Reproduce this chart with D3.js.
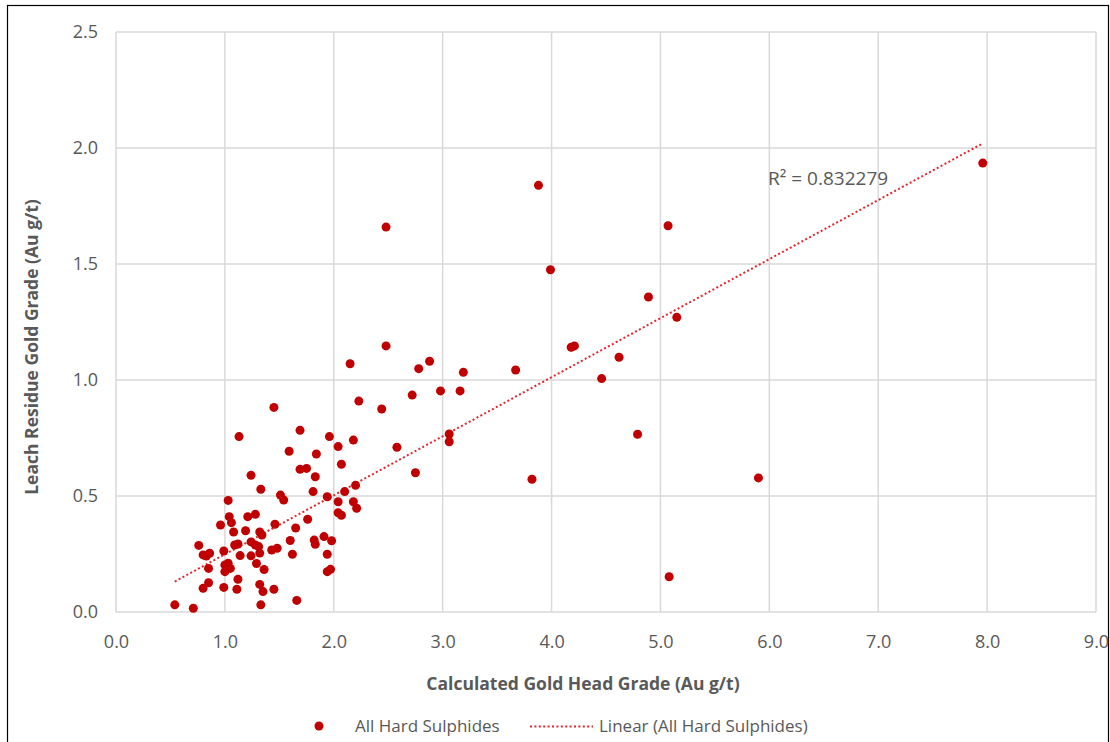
<!DOCTYPE html>
<html>
<head>
<meta charset="utf-8">
<script src="https://cdn.jsdelivr.net/npm/d3@7"></script>
<style>
  html, body { margin: 0; padding: 0; background: #fff; }
  svg { display: block; }
  text { font-family: "Open Sans", "Noto Sans", sans-serif; fill: #595959; }
</style>
</head>
<body>
<svg id="chart" width="1110" height="742"></svg>
<script>
// Calculated head grade (Au g/t) for each hard-sulphide sample
const headGrade = [
  7.96, 3.88, 5.07, 2.48, 3.99, 4.89, 5.15, 4.18, 4.21, 2.48,
  4.62, 2.15, 2.78, 2.88, 3.19, 3.67, 4.46, 2.23, 1.45, 2.44,
  2.72, 2.98, 3.16, 1.69, 1.96, 1.13, 2.18, 2.04, 2.58, 3.06,
  3.06, 4.79, 1.59, 1.84, 2.07, 1.75, 1.69, 1.24, 1.83, 2.75,
  3.82, 5.90, 5.08, 2.20, 1.33, 1.81, 2.10, 1.94, 1.51, 1.54,
  1.03, 2.04, 2.18, 2.21, 2.04, 2.07, 1.04, 1.21, 1.28, 1.76,
  1.06, 0.96, 1.46, 1.65, 1.08, 1.19, 1.32, 1.34, 1.60, 1.82,
  1.83, 1.91, 1.98, 0.76, 1.09, 1.12, 1.24, 1.28, 1.31, 1.43,
  1.48, 1.32, 0.99, 0.80, 0.86, 0.83, 1.14, 1.24, 1.62, 1.94,
  0.85, 1.00, 1.03, 1.05, 1.00, 1.29, 1.36, 1.94, 1.97, 1.12,
  0.85, 0.80, 0.99, 1.11, 1.32, 1.35, 1.45, 0.54, 0.71, 1.33,
  1.66
];

// Gold grade left in the leach residue (Au g/t), same sample order
const residueGrade = [
  1.935, 1.839, 1.665, 1.659, 1.475, 1.358, 1.270, 1.141, 1.147, 1.147,
  1.098, 1.070, 1.049, 1.081, 1.033, 1.043, 1.006, 0.909, 0.882, 0.875,
  0.935, 0.953, 0.953, 0.783, 0.756, 0.756, 0.741, 0.713, 0.710, 0.767,
  0.734, 0.766, 0.693, 0.681, 0.637, 0.619, 0.615, 0.589, 0.583, 0.600,
  0.572, 0.578, 0.152, 0.546, 0.529, 0.519, 0.519, 0.497, 0.504, 0.483,
  0.481, 0.475, 0.475, 0.447, 0.428, 0.417, 0.411, 0.411, 0.421, 0.400,
  0.385, 0.375, 0.378, 0.362, 0.345, 0.350, 0.345, 0.332, 0.308, 0.310,
  0.292, 0.325, 0.307, 0.287, 0.289, 0.293, 0.302, 0.289, 0.282, 0.267,
  0.275, 0.254, 0.263, 0.246, 0.253, 0.241, 0.243, 0.242, 0.249, 0.249,
  0.188, 0.203, 0.210, 0.188, 0.174, 0.209, 0.183, 0.174, 0.184, 0.141,
  0.126, 0.102, 0.106, 0.098, 0.119, 0.088, 0.098, 0.031, 0.016, 0.031,
  0.050
];

// Linear trendline coefficients (residue = slope * head + intercept)
const trendSlope = 0.2545;
const trendIntercept = -0.006;

const xTicks = [0, 1, 2, 3, 4, 5, 6, 7, 8, 9];
const yTicks = [0, 0.5, 1.0, 1.5, 2.0, 2.5];
const seriesName = "All Hard Sulphides";
const trendName = "Linear (All Hard Sulphides)";
const rSquaredLabel = "R² = 0.832279";
const xTitle = "Calculated Gold Head Grade (Au g/t)";
const yTitle = "Leach Residue Gold Grade (Au g/t)";

const points = headGrade.map((h, i) => ({ x: h, y: residueGrade[i] }));

const svg = d3.select("#chart");
const plot = { left: 116, right: 1096, top: 32, bottom: 612 };

const x = d3.scaleLinear().domain([0, 9]).range([plot.left, plot.right]);
const y = d3.scaleLinear().domain([0, 2.5]).range([plot.bottom, plot.top]);

// outer chart frame
svg.append("rect")
  .attr("x", 7.5).attr("y", 5.5)
  .attr("width", 1101).attr("height", 800)
  .attr("fill", "none").attr("stroke", "#000").attr("stroke-width", 1.2);

// gridlines
const grid = svg.append("g").attr("stroke", "#d9d9d9").attr("stroke-width", 1.5);
grid.selectAll(".gx").data(xTicks).join("line")
  .attr("x1", d => x(d)).attr("x2", d => x(d))
  .attr("y1", plot.top).attr("y2", plot.bottom);
grid.selectAll(".gy").data(yTicks).join("line")
  .attr("x1", plot.left).attr("x2", plot.right)
  .attr("y1", d => y(d)).attr("y2", d => y(d));

// axes (labels only; lines come from the grid)
const xAxis = svg.append("g")
  .attr("transform", `translate(0,${plot.bottom})`)
  .call(d3.axisBottom(x).tickValues(xTicks).tickFormat(d3.format(".1f")).tickSize(0).tickPadding(23));
const yAxis = svg.append("g")
  .attr("transform", `translate(${plot.left},0)`)
  .call(d3.axisLeft(y).tickValues(yTicks).tickFormat(d3.format(".1f")).tickSize(0).tickPadding(18));
[xAxis, yAxis].forEach(a => {
  a.select(".domain").remove();
  a.selectAll("text").style("font-size", "18px").attr("fill", "#595959")
    .style("font-family", '"Open Sans", sans-serif');
});

// linear trendline across the sampled head-grade range
const [xMin, xMax] = d3.extent(points, d => d.x);
const trend = [xMin, xMax].map(v => ({ x: v, y: trendIntercept + trendSlope * v }));

svg.append("path")
  .datum(trend)
  .attr("d", d3.line().x(d => x(d.x)).y(d => y(d.y)))
  .attr("fill", "none").attr("stroke", "#e0282a")
  .attr("stroke-width", 2).attr("stroke-dasharray", "2,2.4");

// sample markers
svg.append("g").selectAll("circle").data(points).join("circle")
  .attr("cx", d => x(d.x)).attr("cy", d => y(d.y))
  .attr("r", 4.5).attr("fill", "#c00000");

// R² annotation
svg.append("text")
  .attr("x", 768).attr("y", 185)
  .style("font-size", "19px")
  .text(rSquaredLabel);

// axis titles
svg.append("text")
  .attr("x", 583).attr("y", 690)
  .attr("text-anchor", "middle")
  .style("font-size", "17.5px").style("font-weight", "bold")
  .text(xTitle);
svg.append("text")
  .attr("transform", "translate(38,347) rotate(-90)")
  .attr("text-anchor", "middle")
  .style("font-size", "17.5px").style("font-weight", "bold")
  .text(yTitle);

// legend
const legend = svg.append("g");
legend.append("circle").attr("cx", 319).attr("cy", 726).attr("r", 4.5).attr("fill", "#c00000");
legend.append("text").attr("x", 355).attr("y", 732).style("font-size", "17px").text(seriesName);
legend.append("line")
  .attr("x1", 530).attr("x2", 593).attr("y1", 726.5).attr("y2", 726.5)
  .attr("stroke", "#e0282a").attr("stroke-width", 2).attr("stroke-dasharray", "2,2.4");
legend.append("text").attr("x", 599).attr("y", 732).style("font-size", "17px").text(trendName);
</script>
</body>
</html>
